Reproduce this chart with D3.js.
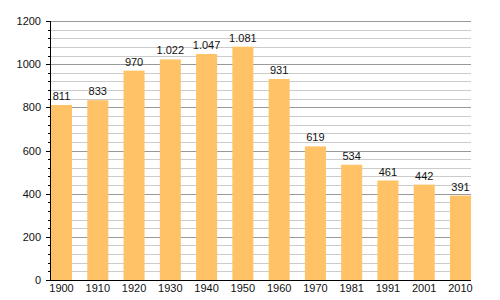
<!DOCTYPE html>
<html>
<head>
<meta charset="utf-8">
<script src="https://cdn.jsdelivr.net/npm/d3@7"></script>
<style>
  body { margin: 0; background: #fff; }
  text { font-family: "Liberation Sans", Arial, sans-serif; font-size: 11px; fill: #111; }
</style>
</head>
<body>
<div id="chart"></div>
<script>
const years = ["1900", "1910", "1920", "1930", "1940", "1950", "1960", "1970", "1981", "1991", "2001", "2010"];
const population = [811, 833, 970, 1022, 1047, 1081, 931, 619, 534, 461, 442, 391];
const majorTicks = [0, 200, 400, 600, 800, 1000, 1200];

const width = 500, height = 300;
const svg = d3.select("#chart").append("svg")
    .attr("width", width)
    .attr("height", height);

const x = d3.scaleBand()
    .domain(years)
    .range([51, 471])
    .paddingInner(0.42)
    .paddingOuter(0)
    .align(0);

const y = d3.scaleLinear()
    .domain([0, 1200])
    .range([280, 21]);

const minorTicks = d3.range(0, 1201, 40);

// grid lines
svg.append("g")
    .selectAll("line")
    .data(minorTicks)
    .enter()
    .append("line")
    .attr("x1", 50)
    .attr("x2", 471)
    .attr("y1", d => Math.round(y(d)) + 0.5)
    .attr("y2", d => Math.round(y(d)) + 0.5)
    .attr("stroke", d => d % 200 === 0 ? "#999" : "#ccc")
    .attr("stroke-width", 1);

// minor ticks on axis
svg.append("g")
    .selectAll("line")
    .data(minorTicks)
    .enter()
    .append("line")
    .attr("x1", d => d % 200 === 0 ? 46 : 48)
    .attr("x2", 50)
    .attr("y1", d => Math.round(y(d)) + 0.5)
    .attr("y2", d => Math.round(y(d)) + 0.5)
    .attr("stroke", "#000");

// bars
svg.append("g")
    .selectAll("rect")
    .data(population)
    .enter()
    .append("rect")
    .attr("x", (d, i) => x(years[i]))
    .attr("y", d => y(d))
    .attr("width", x.bandwidth())
    .attr("height", d => y(0) - y(d))
    .attr("fill", "#ffc266");

// value labels
const fmt = d3.formatLocale({ decimal: ",", thousands: ".", grouping: [3], currency: ["", ""] }).format(",");
svg.append("g")
    .selectAll("text")
    .data(population)
    .enter()
    .append("text")
    .attr("x", (d, i) => x(years[i]) + x.bandwidth() / 2)
    .attr("y", d => y(d) - 5)
    .attr("text-anchor", "middle")
    .text(d => fmt(d));

// y axis labels
svg.append("g")
    .selectAll("text")
    .data(majorTicks)
    .enter()
    .append("text")
    .attr("x", 41)
    .attr("y", d => y(d) + 4)
    .attr("text-anchor", "end")
    .text(d => d);

// x axis labels
svg.append("g")
    .selectAll("text")
    .data(years)
    .enter()
    .append("text")
    .attr("x", d => x(d) + x.bandwidth() / 2)
    .attr("y", 292)
    .attr("text-anchor", "middle")
    .text(d => d);

// axis lines
svg.append("line")
    .attr("x1", 50.5).attr("x2", 50.5)
    .attr("y1", y(1200)).attr("y2", 280.5)
    .attr("stroke", "#000");
svg.append("line")
    .attr("x1", 50).attr("x2", 471)
    .attr("y1", 280.5).attr("y2", 280.5)
    .attr("stroke", "#000");
</script>
</body>
</html>
